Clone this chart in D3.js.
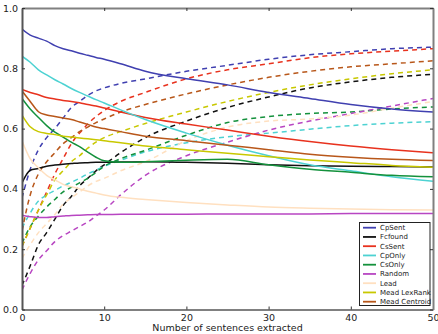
<!DOCTYPE html>
<html><head><meta charset="utf-8">
<script src="https://cdn.jsdelivr.net/npm/d3@7"></script>
<style>body{margin:0;background:#fff}svg{display:block}text{font-family:"DejaVu Sans",sans-serif}</style>
</head><body><svg id="c" width="438" height="334"></svg>
<script>
const xs = [0,1,2,3,4,5,6,7,8,9,10,12,15,20,25,30,35,40,45,50];
const seriesNames = ["CpSent","Fcfound","CsSent","CpOnly","CsOnly","Random","Lead","Mead LexRank","Mead Centroid"];
const seriesColors = ["#4040b0","#111111","#e8321e","#4dd2d2","#14913c","#b846c2","#ffe0c0","#c8c800","#b8571a"];
const solidCpSent   = [0.93,0.91,0.90,0.89,0.875,0.865,0.858,0.85,0.843,0.836,0.83,0.815,0.79,0.765,0.745,0.72,0.70,0.68,0.665,0.655];
const dashCpSent    = [0.37,0.465,0.53,0.57,0.60,0.635,0.67,0.69,0.71,0.725,0.735,0.75,0.765,0.79,0.81,0.83,0.845,0.855,0.865,0.87];
const solidFcfound  = [0.42,0.462,0.468,0.475,0.479,0.482,0.484,0.486,0.487,0.488,0.488,0.489,0.49,0.488,0.485,0.48,0.477,0.475,0.474,0.473];
const dashFcfound   = [0.08,0.145,0.215,0.255,0.30,0.345,0.375,0.41,0.435,0.46,0.48,0.52,0.57,0.625,0.67,0.705,0.735,0.755,0.77,0.78];
const solidCsSent   = [0.73,0.72,0.712,0.703,0.698,0.693,0.69,0.686,0.68,0.675,0.668,0.655,0.637,0.615,0.595,0.575,0.557,0.542,0.53,0.52];
const dashCsSent    = [0.21,0.27,0.33,0.39,0.45,0.50,0.55,0.585,0.615,0.64,0.66,0.69,0.72,0.765,0.795,0.815,0.835,0.848,0.857,0.865];
const solidCpOnly   = [0.84,0.82,0.795,0.778,0.762,0.748,0.733,0.72,0.708,0.696,0.685,0.662,0.63,0.585,0.545,0.51,0.48,0.46,0.44,0.425];
const dashCpOnly    = [0.27,0.32,0.36,0.38,0.395,0.41,0.422,0.435,0.45,0.462,0.475,0.495,0.523,0.553,0.573,0.585,0.598,0.61,0.618,0.623];
const solidCsOnly   = [0.70,0.665,0.637,0.61,0.588,0.572,0.555,0.54,0.522,0.505,0.493,0.488,0.49,0.495,0.498,0.48,0.465,0.455,0.445,0.44];
const dashCsOnly    = [0.22,0.275,0.31,0.34,0.365,0.39,0.405,0.42,0.435,0.455,0.475,0.5,0.528,0.578,0.62,0.64,0.65,0.655,0.665,0.672];
const solidRandom   = [0.313,0.308,0.305,0.305,0.308,0.31,0.312,0.313,0.314,0.315,0.315,0.316,0.316,0.316,0.317,0.317,0.317,0.318,0.318,0.318];
const dashRandom    = [0.065,0.12,0.165,0.195,0.225,0.245,0.26,0.275,0.29,0.31,0.33,0.38,0.445,0.51,0.555,0.595,0.625,0.65,0.675,0.70];
const solidLead     = [0.56,0.50,0.47,0.445,0.43,0.415,0.407,0.40,0.392,0.386,0.38,0.372,0.365,0.355,0.347,0.34,0.336,0.333,0.331,0.33];
const dashLead      = [0.17,0.215,0.255,0.285,0.315,0.35,0.37,0.39,0.41,0.425,0.435,0.46,0.49,0.56,0.605,0.625,0.632,0.645,0.668,0.69];
const solidLexRank  = [0.645,0.606,0.59,0.584,0.58,0.575,0.572,0.569,0.566,0.563,0.56,0.553,0.542,0.53,0.518,0.507,0.496,0.487,0.478,0.472];
const dashLexRank   = [0.21,0.27,0.33,0.38,0.43,0.46,0.49,0.51,0.535,0.555,0.57,0.59,0.617,0.655,0.69,0.72,0.745,0.765,0.782,0.795];
const solidCentroid = [0.725,0.69,0.656,0.645,0.64,0.635,0.63,0.622,0.614,0.605,0.6,0.59,0.575,0.56,0.545,0.53,0.515,0.505,0.498,0.494];
const dashCentroid  = [0.26,0.38,0.45,0.49,0.52,0.55,0.57,0.59,0.605,0.62,0.632,0.655,0.68,0.715,0.745,0.77,0.79,0.805,0.815,0.825];
const xTicks = [0,10,20,30,40,50];
const yTicks = [0.0,0.2,0.4,0.6,0.8,1.0];
const xLabel = "Number of sentences extracted";

const solids = [solidCpSent,solidFcfound,solidCsSent,solidCpOnly,solidCsOnly,solidRandom,solidLead,solidLexRank,solidCentroid];
const dashes = [dashCpSent,dashFcfound,dashCsSent,dashCpOnly,dashCsOnly,dashRandom,dashLead,dashLexRank,dashCentroid];

const svg = d3.select("#c");
const L=22, R=433, T=8, B=309.5;
const x = d3.scaleLinear().domain([0,50]).range([L,R]);
const y = d3.scaleLinear().domain([0,1]).range([B,T]);
const line = d3.line().x((d,i)=>x(xs[i])).y(d=>y(d)).curve(d3.curveMonotoneX);

const g = svg.append("g");
const clip = svg.append("clipPath").attr("id","pc").append("rect").attr("x",L).attr("y",T).attr("width",R-L).attr("height",B-T);
const plot = svg.append("g").attr("clip-path","url(#pc)");
// draw dashed first then solid, in order
seriesNames.forEach((n,i)=>{
  plot.append("path").attr("d",line(dashes[i])).attr("fill","none").attr("stroke",seriesColors[i])
    .attr("stroke-width",1.5).attr("stroke-dasharray","5,4");
});
seriesNames.forEach((n,i)=>{
  plot.append("path").attr("d",line(solids[i])).attr("fill","none").attr("stroke",seriesColors[i])
    .attr("stroke-width",1.5);
});

// axes
const axColor = "#808080";
const xb = svg.append("g").attr("transform",`translate(0,${B})`).call(d3.axisBottom(x).tickValues(xTicks).tickSizeInner(-3).tickSizeOuter(0).tickPadding(5).tickFormat(d3.format("d")));
const xt = svg.append("g").attr("transform",`translate(0,${T})`).call(d3.axisTop(x).tickValues(xTicks).tickSizeInner(-3).tickSizeOuter(0).tickFormat(""));
const yl = svg.append("g").attr("transform",`translate(${L},0)`).call(d3.axisLeft(y).tickValues(yTicks).tickSizeInner(-3).tickSizeOuter(0).tickPadding(4).tickFormat(d3.format(".1f")));
const yr = svg.append("g").attr("transform",`translate(${R},0)`).call(d3.axisRight(y).tickValues(yTicks).tickSizeInner(-3).tickSizeOuter(0).tickFormat(""));
[xb,xt,yl,yr].forEach(a=>{
  a.select(".domain").attr("stroke",axColor).attr("stroke-width",2);
  a.selectAll(".tick line").attr("stroke","#333").attr("stroke-width",1);
  a.selectAll("text").attr("fill","#222").style("font-size","9.5px").style("font-family","DejaVu Sans");
});
yl.select(".domain").attr("stroke","#555");
svg.append("text").attr("x",(L+R)/2).attr("y",331).attr("text-anchor","middle").attr("fill","#222")
  .style("font-size","9.5px").text(xLabel);

// legend
const lg = svg.append("g");
lg.append("rect").attr("x",359.5).attr("y",222.5).attr("width",70.5).attr("height",83).attr("fill","#fff").attr("stroke","#222").attr("stroke-width",1);
seriesNames.forEach((n,i)=>{
  const yy = 227.7 + i*9.25;
  lg.append("line").attr("x1",363).attr("x2",376).attr("y1",yy).attr("y2",yy).attr("stroke",seriesColors[i]).attr("stroke-width",1.8);
  lg.append("text").attr("x",380).attr("y",yy).attr("dy","0.35em").attr("fill","#222").style("font-size","7px").text(n);
});
</script></body></html>
